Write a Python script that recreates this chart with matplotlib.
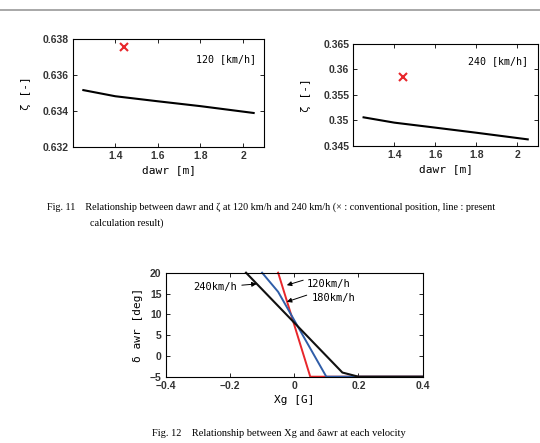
import matplotlib
matplotlib.use("Agg")
import matplotlib.pyplot as plt
from matplotlib.lines import Line2D

# ---- data ----
dawr = [1.25, 1.4, 1.6, 1.8, 2.05]
zeta_120 = [0.63516, 0.63482, 0.63454, 0.63427, 0.63389]
zeta_240 = [0.35062, 0.34958, 0.34860, 0.34760, 0.34630]
mark_120 = (1.44, 0.63754)
mark_240 = (1.44, 0.3586)

xg_120 = [-0.05, 0.05, 0.4]
d_120 = [20, -5, -5]
xg_180 = [-0.10, -0.05, 0.10, 0.4]
d_180 = [20, 15.4, -5, -5]
xg_240 = [-0.15, 0.15, 0.20, 0.4]
d_240 = [20, -4, -5, -5]

caption1_l1 = "Fig. 11    Relationship between dawr and \u03b6 at 120 km/h and 240 km/h (\u00d7 : conventional position, line : present"
caption1_l2 = "calculation result)"
caption2 = "Fig. 12    Relationship between Xg and \u03b4awr at each velocity"

W, H = 540, 443
fig = plt.figure(figsize=(5.4, 4.43), dpi=100)

mono = "DejaVu Sans Mono"
tickfont = "Liberation Sans"


def style(ax):
    ax.tick_params(direction="in", top=True, right=True, length=3, width=0.6,
                   labelsize=7.5, pad=3)
    for lab in ax.get_xticklabels() + ax.get_yticklabels():
        lab.set_family(tickfont)
        lab.set_fontweight("bold")
        lab.set_color("#333333")
    for s in ax.spines.values():
        s.set_linewidth(0.8)


def axrect(l, t, r, b):
    return [l / W, 1 - b / H, (r - l) / W, (b - t) / H]

# ---- top-left ----
ax1 = fig.add_axes(axrect(72.7, 39, 264.3, 147))
ax1.plot(dawr, zeta_120, color="k", lw=1.5)
ax1.plot(*mark_120, marker="x", color="#e8262b", ms=6, mew=1.5)
ax1.set_xlim(1.2, 2.1)
ax1.set_ylim(0.632, 0.638)
ax1.set_xticks([1.4, 1.6, 1.8, 2.0])
ax1.set_xticklabels(["1.4", "1.6", "1.8", "2"])
ax1.set_yticks([0.632, 0.634, 0.636, 0.638])
ax1.set_yticklabels(["0.632", "0.634", "0.636", "0.638"])
ax1.text(0.955, 0.815, "120 [km/h]", transform=ax1.transAxes, ha="right",
         va="center", family=mono, fontsize=7.2)
ax1.set_xlabel("dawr [m]", family=mono, fontsize=8, labelpad=3)
ax1.set_ylabel("\u03b6 [-]", family=mono, fontsize=8, labelpad=8)
style(ax1)

# ---- top-right ----
ax2 = fig.add_axes(axrect(353.3, 44, 538, 146))
ax2.plot(dawr, zeta_240, color="k", lw=1.5)
ax2.plot(*mark_240, marker="x", color="#e8262b", ms=6, mew=1.5)
ax2.set_xlim(1.2, 2.1)
ax2.set_ylim(0.345, 0.365)
ax2.set_xticks([1.4, 1.6, 1.8, 2.0])
ax2.set_xticklabels(["1.4", "1.6", "1.8", "2"])
ax2.set_yticks([0.345, 0.35, 0.355, 0.36, 0.365])
ax2.set_yticklabels(["0.345", "0.35", "0.355", "0.36", "0.365"])
ax2.text(0.945, 0.83, "240 [km/h]", transform=ax2.transAxes, ha="right",
         va="center", family=mono, fontsize=7.2)
ax2.set_xlabel("dawr [m]", family=mono, fontsize=8, labelpad=3)
ax2.set_ylabel("\u03b6 [-]", family=mono, fontsize=8, labelpad=9)
style(ax2)

# ---- bottom ----
ax3 = fig.add_axes(axrect(165.7, 272.7, 422.7, 376.7))
ax3.plot(xg_120, d_120, color="#e8262b", lw=1.4, clip_on=False)
ax3.plot(xg_180, d_180, color="#2f5da8", lw=1.4, clip_on=False)
ax3.plot(xg_240, d_240, color="#111111", lw=1.5, clip_on=False)
ax3.set_xlim(-0.4, 0.4)
ax3.set_ylim(-5, 20)
ax3.set_xticks([-0.4, -0.2, 0, 0.2, 0.4])
ax3.set_xticklabels(["\u22120.4", "\u22120.2", "0", "0.2", "0.4"])
ax3.set_yticks([-5, 0, 5, 10, 15, 20])
ax3.set_yticklabels(["\u22125", "0", "5", "10", "15", "20"])
ax3.set_xlabel("Xg [G]", family=mono, fontsize=8, labelpad=3)
ax3.set_ylabel("\u03b4 awr [deg]", family=mono, fontsize=8, labelpad=5)
style(ax3)

ap = dict(arrowstyle="-|>", color="k", lw=0.7, mutation_scale=7,
          shrinkA=0, shrinkB=0)
ax3.annotate("", xy=(-0.023, 17.0), xytext=(0.028, 18.2), arrowprops=ap)
ax3.text(0.039, 17.3, "120km/h", family=mono, fontsize=7.5, va="center", ha="left")
ax3.annotate("", xy=(-0.023, 13.0), xytext=(0.039, 14.6), arrowprops=ap)
ax3.text(0.054, 13.85, "180km/h", family=mono, fontsize=7.5, va="center", ha="left")
ax3.annotate("", xy=(-0.117, 17.3), xytext=(-0.163, 17.0), arrowprops=ap)
ax3.text(-0.315, 16.6, "240km/h", family=mono, fontsize=7.5, va="center", ha="left")

# ---- header rule ----
fig.add_artist(Line2D([0, 1], [1 - 10 / H, 1 - 10 / H], color="#999999", lw=1.2))

# ---- captions ----
fig.text(47 / W, 1 - 207 / H, caption1_l1, family="Liberation Serif",
         fontsize=7.3, va="center", ha="left")
fig.text(90 / W, 1 - 223 / H, caption1_l2, family="Liberation Serif",
         fontsize=7.3, va="center", ha="left")
fig.text(152 / W, 1 - 433 / H, caption2, family="Liberation Serif",
         fontsize=7.5, va="center", ha="left")

fig.savefig("out.png", dpi=100)
